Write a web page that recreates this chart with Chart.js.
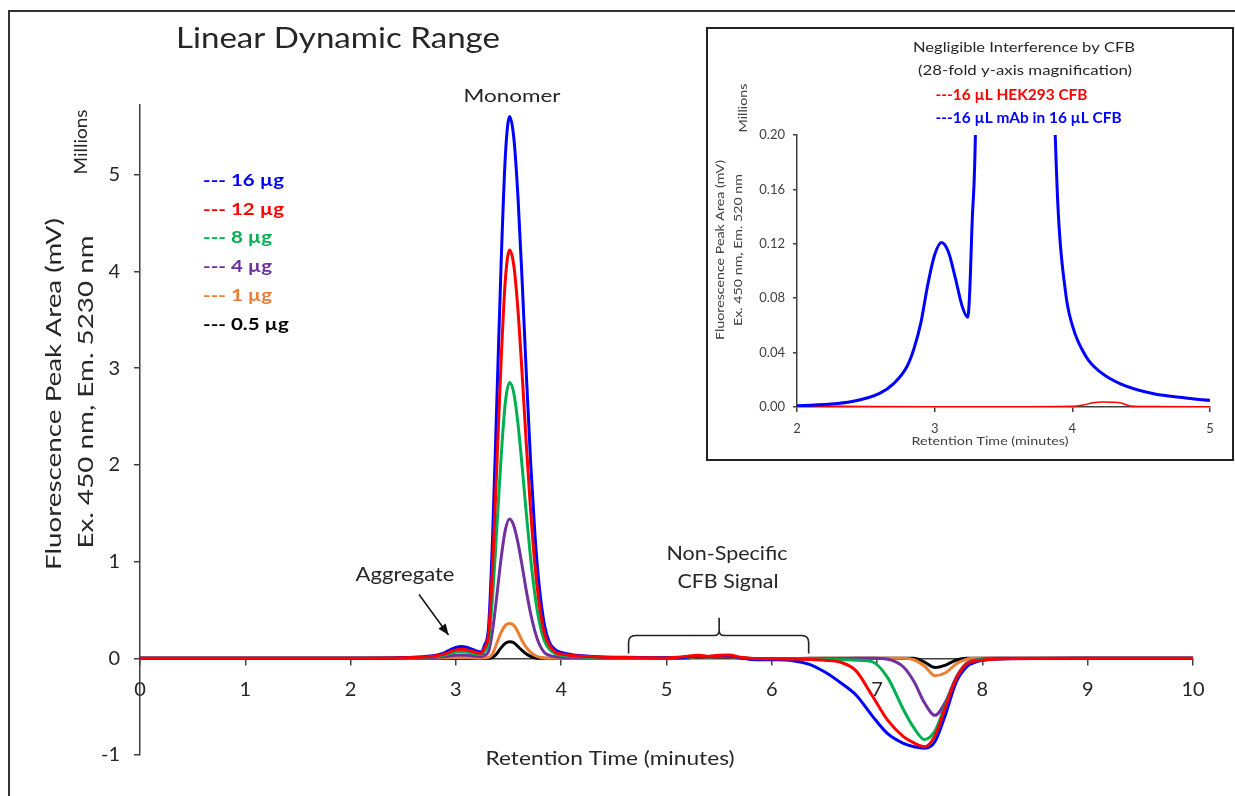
<!DOCTYPE html>
<html>
<head>
<meta charset="utf-8">
<script src="https://cdn.jsdelivr.net/npm/chart.js@4.4.1/dist/chart.umd.min.js"></script>
<style>
  html, body { margin: 0; padding: 0; background: #fff; }
  #wrap { position: relative; width: 1235px; height: 796px; overflow: hidden; }
  #main { position: absolute; left: 0; top: 0; }
  #inset { position: absolute; left: 706px; top: 27px; }
</style>
</head>
<body>
<div id="wrap">
  <canvas id="main" width="1235" height="796"></canvas>
  <canvas id="inset" width="528" height="434"></canvas>
</div>
<script>
// === DATA (retention time in minutes, signal in millions) ===
const retentionTime = [0, 1, 2, 2.4, 2.6, 2.7, 2.8, 2.85, 2.9, 2.95, 3.0, 3.05, 3.1, 3.15, 3.2,
  3.24, 3.27, 3.31, 3.35, 3.39, 3.43, 3.47, 3.51, 3.55, 3.59, 3.63, 3.67, 3.71, 3.75, 3.79,
  3.84, 3.89, 3.95, 4.0, 4.1, 4.2, 4.35, 4.6, 4.8, 5.0, 5.2, 5.3, 5.4, 5.5, 5.6,
  5.7, 5.8, 6.0, 6.2, 6.35, 6.5, 6.65, 6.8, 6.95, 7.1, 7.25, 7.35, 7.45, 7.55, 7.65,
  7.75, 7.85, 7.95, 8.1, 8.3, 9, 10];

const ug16 = [0, 0, 0.001, 0.004, 0.010, 0.017, 0.030, 0.043, 0.062, 0.090, 0.112, 0.121, 0.114, 0.095, 0.074,
  0.066, 0.13, 0.32, 1.3, 2.7, 4.1, 5.2, 5.6, 5.38, 4.76, 3.88, 2.91, 2.02, 1.29, 0.76,
  0.35, 0.16, 0.085, 0.06, 0.037, 0.026, 0.017, 0.0095, 0.007, 0.005, 0.014, 0.024, 0.016, 0.026, 0.024,
  0.006, -0.012, -0.016, -0.025, -0.06, -0.14, -0.25, -0.38, -0.59, -0.78, -0.88, -0.915, -0.93, -0.86, -0.58,
  -0.25, -0.09, -0.035, -0.01, -0.004, 0, 0];

const ug12 = [0, 0, 0.001, 0.003, 0.008, 0.013, 0.023, 0.033, 0.048, 0.070, 0.087, 0.094, 0.089, 0.074, 0.057,
  0.051, 0.10, 0.25, 0.98, 2.03, 3.09, 3.92, 4.22, 4.06, 3.59, 2.92, 2.19, 1.52, 0.97, 0.57,
  0.26, 0.13, 0.06, 0.044, 0.028, 0.02, 0.013, 0.007, 0.005, 0.004, 0.02, 0.032, 0.02, 0.03, 0.033,
  0.01, 0, -0.005, -0.008, -0.012, -0.02, -0.04, -0.13, -0.38, -0.64, -0.81, -0.875, -0.915, -0.80, -0.50,
  -0.21, -0.06, -0.025, -0.01, -0.003, 0, 0];

const ug8 = [0, 0, 0.001, 0.002, 0.006, 0.010, 0.017, 0.024, 0.035, 0.052, 0.064, 0.070, 0.066, 0.055, 0.042,
  0.038, 0.07, 0.17, 0.66, 1.37, 2.09, 2.65, 2.85, 2.74, 2.42, 1.97, 1.48, 1.03, 0.66, 0.39,
  0.18, 0.09, 0.045, 0.03, 0.02, 0.014, 0.009, 0.005, 0.004, 0.003, 0.012, 0.022, 0.014, 0.022, 0.022,
  0.006, -0.004, -0.006, -0.008, -0.008, -0.01, -0.012, -0.02, -0.035, -0.2, -0.53, -0.72, -0.84, -0.75, -0.48,
  -0.21, -0.06, -0.02, -0.006, -0.002, 0, 0];

const ug4 = [0, 0, 0, 0.001, 0.003, 0.005, 0.009, 0.012, 0.017, 0.025, 0.031, 0.034, 0.032, 0.027, 0.02,
  0.017, 0.03, 0.07, 0.3, 0.66, 1.04, 1.33, 1.44, 1.37, 1.19, 0.95, 0.69, 0.46, 0.28, 0.15,
  0.06, 0.03, 0.015, 0.01, 0.007, 0.005, 0.003, 0.002, 0.001, 0.001, 0.01, 0.02, 0.012, 0.02, 0.02,
  0.005, -0.005, -0.006, -0.005, -0.004, -0.003, -0.002, 0, 0, -0.01, -0.09, -0.24, -0.46, -0.59, -0.45,
  -0.2, -0.05, -0.015, 0, 0, 0, 0];

const ug1 = [0, 0, 0, 0, 0.001, 0.002, 0.003, 0.004, 0.005, 0.007, 0.008, 0.009, 0.008, 0.006, 0.004,
  0.004, 0.005, 0.01, 0.05, 0.16, 0.27, 0.34, 0.36, 0.34, 0.27, 0.18, 0.11, 0.06, 0.03, 0.012,
  0.004, 0.001, 0, 0, 0, 0, 0, 0, 0, 0, 0.008, 0.016, 0.01, 0.016, 0.016,
  0.004, -0.003, -0.004, -0.003, -0.002, 0, 0, 0, 0, 0, 0, -0.015, -0.08, -0.18, -0.15,
  -0.06, -0.01, 0, 0, 0, 0, 0];

const ug05 = [0, 0, 0, 0, 0, 0, 0, 0, 0, 0, 0, 0, 0, 0, 0,
  0, 0, 0, 0.01, 0.05, 0.11, 0.155, 0.17, 0.16, 0.12, 0.08, 0.045, 0.02, 0.006, 0,
  0, 0, 0, 0, 0, 0, 0, 0, 0, 0, 0.006, 0.012, 0.008, 0.012, 0.012,
  0.003, -0.002, -0.003, -0.002, 0, 0, 0, 0, 0, 0, 0, 0, -0.04, -0.095, -0.07,
  -0.02, 0, 0, 0, 0, 0, 0];

// inset: CFB only trace
const insetTime = [2, 2.5, 3, 3.5, 4.0, 4.08, 4.15, 4.22, 4.3, 4.36, 4.42, 4.6, 5];
const cfbOnly = [0.0008, 0.0004, 0.0002, 0.0002, 0.0005, 0.0015, 0.0032, 0.0036, 0.0035, 0.0028, 0.0008, 0.0003, 0.0002];

const seriesLabels = ['16 µg', '12 µg', '8 µg', '4 µg', '1 µg', '0.5 µg'];
const seriesValues = [ug16, ug12, ug8, ug4, ug1, ug05];
const seriesColors = ['#0000ff', '#ff0000', '#00b050', '#7030a0', '#ed7d31', '#000000'];
const drawOrder = [1, 0, 2, 3, 4, 5]; // red sits on top

const mainXTicks = [0, 10, 1];
const mainYTicks = [-1, 5.72, 1];
const insetXTicks = [2, 5, 1];
const insetYTicks = [0, 0.2, 0.04];

const FONT = 'Lato, "Open Sans", sans-serif';
const TXT = '#262626';
const AXIS = '#404040';
const GREY = '#404040';

const pairs = (xs, ys) => xs.map((x, i) => ({ x: x, y: ys[i] }));

function drawText(ctx, str, x, y, o) {
  ctx.save();
  ctx.font = (o.bold ? 'bold ' : '') + o.size + 'px ' + FONT;
  ctx.fillStyle = o.color || TXT;
  ctx.textAlign = o.align || 'center';
  ctx.textBaseline = o.baseline || 'alphabetic';
  ctx.translate(x, y);
  if (o.rot) ctx.rotate(o.rot);
  const sx = o.width ? o.width / ctx.measureText(str).width : (o.sx || 1);
  ctx.scale(sx, 1);
  ctx.fillText(str, 0, 0);
  ctx.restore();
  return sx;
}

const UP = -Math.PI / 2;

// === MAIN CHART DECORATIONS ===
const mainDecor = {
  id: 'mainDecor',
  beforeDraw(chart) {
    const ctx = chart.ctx;
    ctx.save();
    ctx.fillStyle = '#fff';
    ctx.fillRect(0, 0, chart.width, chart.height);
    ctx.strokeStyle = '#333';
    ctx.lineWidth = 2;
    ctx.strokeRect(9, 11, 1260, 820);
    ctx.restore();
  },
  afterDraw(chart) {
    const ctx = chart.ctx;
    const xs = chart.scales.x, ys = chart.scales.y;

    drawText(ctx, 'Linear Dynamic Range', 338, 48, { size: 28, width: 324 });
    drawText(ctx, 'Monomer', 512, 102, { size: 18, width: 97 });
    drawText(ctx, 'Millions', 82, 142, { size: 17, rot: UP, baseline: 'middle', width: 65 });
    const sy = drawText(ctx, 'Fluorescence Peak Area (mV)', 54, 394, { size: 22, rot: UP, baseline: 'middle', width: 352 });
    drawText(ctx, 'Ex. 450 nm, Em. 5230 nm', 86, 392, { size: 22, rot: UP, baseline: 'middle', sx: sy });
    drawText(ctx, 'Retention Time (minutes)', 610, 765, { size: 19, width: 249 });
    drawText(ctx, 'Aggregate', 405, 581, { size: 19, width: 99 });
    drawText(ctx, 'Non-Specific', 727, 560, { size: 19, width: 121 });
    drawText(ctx, 'CFB Signal', 728, 588, { size: 19, width: 101 });

    // legend
    let lsx = 1;
    seriesLabels.forEach((lab, i) => {
      const y = 186 + i * 28.7;
      const o = { size: 17, bold: true, align: 'left', color: seriesColors[i] };
      if (i === 0) { o.width = 81; lsx = drawText(ctx, '--- ' + lab, 203, y, o); }
      else { o.sx = lsx; drawText(ctx, '--- ' + lab, 203, y, o); }
    });

    // aggregate arrow
    const ax0 = xs.getPixelForValue(2.65), ay0 = ys.getPixelForValue(0.66);
    const ax1 = xs.getPixelForValue(2.93), ay1 = ys.getPixelForValue(0.24);
    ctx.save();
    ctx.strokeStyle = '#111';
    ctx.fillStyle = '#111';
    ctx.lineWidth = 1.5;
    ctx.beginPath();
    ctx.moveTo(ax0, ay0);
    ctx.lineTo(ax1, ay1);
    ctx.stroke();
    const ang = Math.atan2(ay1 - ay0, ax1 - ax0);
    ctx.beginPath();
    ctx.moveTo(ax1, ay1);
    ctx.lineTo(ax1 - 11 * Math.cos(ang) + 4.5 * Math.sin(ang), ay1 - 11 * Math.sin(ang) - 4.5 * Math.cos(ang));
    ctx.lineTo(ax1 - 11 * Math.cos(ang) - 4.5 * Math.sin(ang), ay1 - 11 * Math.sin(ang) + 4.5 * Math.cos(ang));
    ctx.closePath();
    ctx.fill();

    // non-specific brace
    const bx0 = xs.getPixelForValue(4.64), bx1 = xs.getPixelForValue(6.35), bxm = xs.getPixelForValue(5.5);
    const yEnd = ys.getPixelForValue(0.05), yBar = ys.getPixelForValue(0.235), yTip = ys.getPixelForValue(0.42);
    const r = 7;
    ctx.lineWidth = 1.6;
    ctx.strokeStyle = '#222';
    ctx.beginPath();
    ctx.moveTo(bx0, yEnd);
    ctx.lineTo(bx0, yBar + r);
    ctx.quadraticCurveTo(bx0, yBar, bx0 + r, yBar);
    ctx.lineTo(bxm - 5, yBar);
    ctx.quadraticCurveTo(bxm, yBar, bxm, yBar - 5);
    ctx.lineTo(bxm, yTip);
    ctx.moveTo(bxm, yBar - 5);
    ctx.quadraticCurveTo(bxm, yBar, bxm + 5, yBar);
    ctx.lineTo(bx1 - r, yBar);
    ctx.quadraticCurveTo(bx1, yBar, bx1, yBar + r);
    ctx.lineTo(bx1, yEnd);
    ctx.stroke();
    ctx.restore();
  }
};

const tickFont = { family: FONT, size: 20 };

new Chart(document.getElementById('main'), {
  type: 'line',
  data: {
    datasets: seriesValues.map((vals, i) => ({
      label: seriesLabels[i],
      data: pairs(retentionTime, vals),
      borderColor: seriesColors[i],
      borderWidth: 3,
      pointRadius: 0,
      fill: false,
      cubicInterpolationMode: 'monotone',
      order: drawOrder[i]
    }))
  },
  options: {
    responsive: false,
    animation: false,
    events: [],
    layout: { padding: { left: 80, right: 42, top: 105, bottom: 41 } },
    plugins: { legend: { display: false }, tooltip: { enabled: false } },
    scales: {
      x: {
        type: 'linear', min: mainXTicks[0], max: mainXTicks[1], position: { y: 0 },
        ticks: { stepSize: mainXTicks[2], font: tickFont, color: TXT, padding: 13, maxRotation: 0 },
        grid: { drawOnChartArea: false, tickLength: 6, color: AXIS, lineWidth: 1.5 },
        border: { color: AXIS, width: 1.5 }
      },
      y: {
        type: 'linear', min: mainYTicks[0], max: mainYTicks[1], position: 'left',
        afterFit: s => { s.width = 60; },
        afterBuildTicks: s => { s.ticks = s.ticks.filter(t => Math.abs(t.value - Math.round(t.value)) < 1e-6); },
        ticks: { stepSize: mainYTicks[2], font: tickFont, color: TXT, padding: 14 },
        grid: { drawOnChartArea: false, tickLength: 6, color: AXIS, lineWidth: 1.5 },
        border: { color: AXIS, width: 1.5 }
      }
    }
  },
  plugins: [mainDecor]
});

// === INSET ===
const insetDecor = {
  id: 'insetDecor',
  beforeDraw(chart) {
    const ctx = chart.ctx;
    ctx.save();
    ctx.fillStyle = '#fff';
    ctx.fillRect(0, 0, chart.width, chart.height);
    ctx.restore();
  },
  afterDraw(chart) {
    const ctx = chart.ctx;
    ctx.save();
    ctx.strokeStyle = '#222';
    ctx.lineWidth = 2;
    ctx.strokeRect(1, 1, chart.width - 2, chart.height - 2);
    ctx.restore();
    drawText(ctx, 'Negligible Interference by CFB', 318, 25, { size: 14, width: 222, color: TXT });
    drawText(ctx, '(28-fold y-axis magnification)', 319, 47.5, { size: 14, width: 214, color: TXT });
    const lsx = drawText(ctx, '---16 µL HEK293 CFB', 229.5, 73, { size: 15, bold: true, align: 'left', width: 152, color: '#ff0000' });
    drawText(ctx, '---16 µL mAb in 16 µL CFB', 229.5, 95.5, { size: 15, bold: true, align: 'left', sx: lsx, color: '#0000ff' });
    drawText(ctx, 'Millions', 37, 81, { size: 12, rot: UP, baseline: 'middle', width: 49, color: GREY });
    const sy = drawText(ctx, 'Fluorescence Peak Area (mV)', 14, 223, { size: 12, rot: UP, baseline: 'middle', width: 180, color: GREY });
    drawText(ctx, 'Ex. 450 nm, Em. 520 nm', 32, 223, { size: 12, rot: UP, baseline: 'middle', sx: sy, color: GREY });
    drawText(ctx, 'Retention Time (minutes)', 284, 418, { size: 12, width: 157, color: GREY });
  }
};

const insetFont = { family: FONT, size: 13 };

new Chart(document.getElementById('inset'), {
  type: 'line',
  data: {
    datasets: [
      { label: '16 µL mAb in 16 µL CFB', data: pairs(retentionTime, ug16), borderColor: '#0000ff', borderWidth: 3,
        pointRadius: 0, fill: false, cubicInterpolationMode: 'monotone', order: 0 },
      { label: '16 µL HEK293 CFB', data: pairs(insetTime, cfbOnly), borderColor: '#ff0000', borderWidth: 1.5,
        pointRadius: 0, fill: false, cubicInterpolationMode: 'monotone', order: 1 }
    ]
  },
  options: {
    responsive: false,
    animation: false,
    events: [],
    layout: { padding: { left: 51, right: 24, top: 108, bottom: 24 } },
    plugins: { legend: { display: false }, tooltip: { enabled: false } },
    scales: {
      x: {
        type: 'linear', min: insetXTicks[0], max: insetXTicks[1], position: 'bottom',
        afterFit: s => { s.height = 30; },
        ticks: { stepSize: insetXTicks[2], font: insetFont, color: GREY, padding: 9, maxRotation: 0 },
        grid: { drawOnChartArea: false, tickLength: 5, color: AXIS, lineWidth: 1.5 },
        border: { color: AXIS, width: 1.5 }
      },
      y: {
        type: 'linear', min: insetYTicks[0], max: insetYTicks[1], position: 'left',
        afterFit: s => { s.width = 40; },
        ticks: { stepSize: insetYTicks[2], font: insetFont, color: GREY, padding: 8, callback: v => v.toFixed(2) },
        grid: { drawOnChartArea: false, tickLength: 4, color: AXIS, lineWidth: 1.5 },
        border: { color: AXIS, width: 1.5 }
      }
    }
  },
  plugins: [insetDecor]
});
</script>
</body>
</html>
